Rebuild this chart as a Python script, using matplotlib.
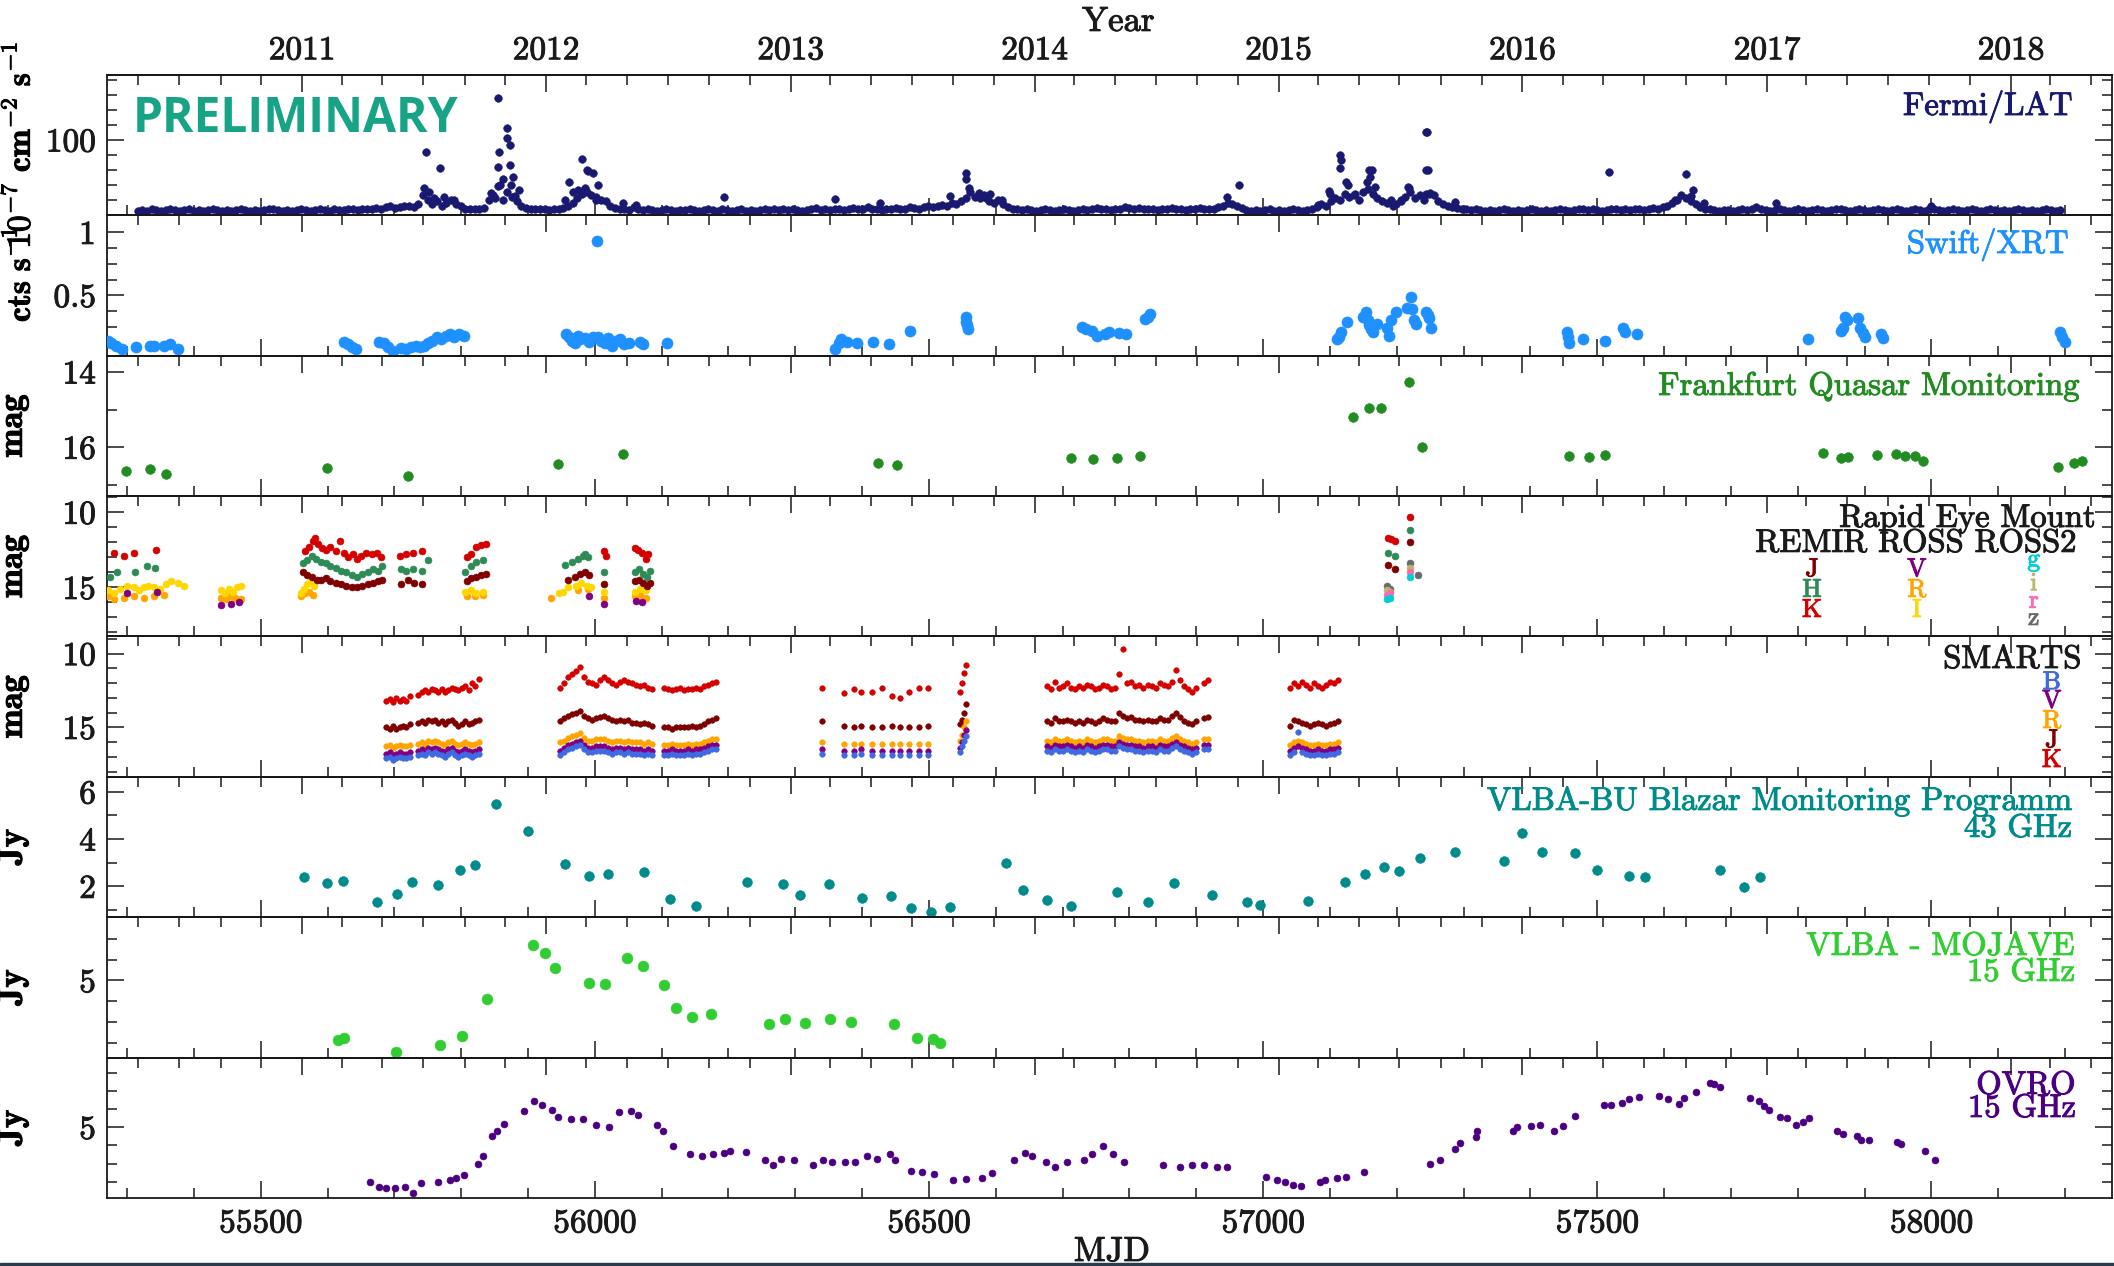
"""Multi-wavelength light curves of the blazar, 2010-2018.

Eight stacked panels sharing the MJD axis: Fermi/LAT gamma rays, Swift/XRT
X-rays, optical/NIR photometry (Frankfurt, REM, SMARTS) and radio
(VLBA-BU 43 GHz, MOJAVE 15 GHz, OVRO 15 GHz). Calendar years are ticked on
the top edge of every panel.
"""

import matplotlib

matplotlib.use("Agg")
import matplotlib.pyplot as plt
import numpy as np
import pandas as pd
from matplotlib import patheffects
from matplotlib.patches import Rectangle
from matplotlib.text import Text
from matplotlib.ticker import FixedLocator, FuncFormatter, MultipleLocator

# ---------------------------------------------------------------- data
# Fermi/LAT weekly flux [1e-7 ph cm^-2 s^-1], first bin at MJD 55316
FERMI_T0 = 55316
FERMI_STEP = 7
fermi_weekly = [
    5, 6, 5, 7, 6, 5, 6, 8, 6, 5, 6, 7, 5, 6, 5, 6, 7, 6, 5, 6,
    5, 6, 7, 6, 5, 6, 5, 6, 7, 8, 6, 5, 6, 5, 6, 7, 6, 5, 6, 7,
    6, 5, 7, 6, 6, 8, 7, 6, 7, 8, 7, 9, 8, 10, 12, 9, 10, 12, 12, 10,
    14, 26, 20, 14, 18, 12, 16, 20, 14, 11, 8, 7, 8, 7, 9, 20, 26, 38, 48, 30,
    24, 18, 12, 9, 8, 7, 8, 7, 6, 8, 7, 9, 12, 16, 22, 28, 30, 26, 24, 20,
    18, 12, 9, 8, 7, 6, 10, 7, 6, 7, 6, 5, 6, 7, 6, 5, 6, 6, 7, 6,
    5, 6, 7, 6, 5, 8, 6, 5, 6, 7, 5, 6, 5, 6, 7, 6, 8, 6, 7, 6,
    7, 6, 5, 6, 7, 9, 6, 7, 6, 8, 7, 6, 7, 9, 8, 7, 10, 8, 7, 6,
    7, 8, 9, 7, 8, 10, 9, 8, 10, 12, 10, 11, 13, 12, 15, 14, 18, 22, 30, 24,
    22, 26, 18, 16, 20, 14, 10, 8, 7, 6, 7, 6, 5, 6, 7, 6, 5, 6, 7, 6,
    5, 6, 8, 6, 7, 9, 7, 8, 6, 7, 8, 10, 9, 8, 9, 7, 8, 7, 6, 8,
    7, 9, 8, 7, 6, 8, 7, 9, 8, 7, 8, 10, 12, 16, 14, 12, 9, 6, 5, 6,
    5, 6, 7, 5, 6, 5, 6, 7, 6, 5, 6, 7, 10, 14, 12, 18, 22, 20, 28, 24,
    26, 20, 30, 34, 28, 22, 18, 16, 20, 14, 18, 24, 30, 22, 26, 20, 28, 26, 18, 14,
    12, 10, 9, 8, 7, 6, 7, 6, 5, 6, 5, 6, 7, 6, 5, 6, 5, 6, 7, 6,
    5, 6, 5, 6, 7, 6, 5, 6, 7, 8, 6, 7, 6, 5, 6, 8, 7, 6, 7, 6,
    7, 8, 6, 7, 9, 8, 10, 12, 16, 20, 26, 22, 18, 14, 10, 8, 7, 6, 5, 6,
    6, 5, 6, 7, 6, 8, 10, 7, 6, 5, 6, 7, 6, 5, 6, 7, 6, 5, 6, 7,
    6, 5, 6, 7, 8, 6, 5, 6, 7, 6, 5, 6, 8, 6, 5, 6, 7, 6, 5, 6,
    7, 6, 5, 8, 7, 6, 5, 6, 7, 6, 5, 6, 7, 6, 5, 6, 7, 6, 5, 6,
    5, 6, 7, 6, 5, 6, 5, 6, 7, 6, 5, 6,
]
# daily points during flares (MJD, flux)
fermi_flares = [
    (55745, 36), (55747, 84), (55752, 30), (55760, 22), (55769, 63), (55775, 24),
    (55790, 20), (55844, 29), (55850, 22), (55855, 156), (55855, 64), (55856, 84),
    (55858, 40), (55862, 20), (55868, 102), (55869, 116), (55873, 93), (55873, 66),
    (55875, 40), (55877, 51), (55880, 25), (55886, 33), (55955, 19), (55961, 44),
    (55968, 30), (55975, 33), (55981, 75), (55985, 36), (55988, 60), (55990, 58),
    (55998, 56), (56002, 19), (56005, 40), (56042, 16), (56061, 13), (56194, 24),
    (56359, 21), (56427, 16), (56531, 25), (56555, 56), (56556, 47), (56560, 36),
    (56575, 29), (56585, 22), (56591, 28), (56609, 20), (56946, 24), (56964, 39),
    (57082, 13), (57099, 31), (57100, 27), (57115, 80), (57116, 73), (57115, 62),
    (57124, 44), (57127, 40), (57138, 27), (57155, 44), (57159, 60), (57160, 51),
    (57163, 60), (57168, 37), (57195, 12), (57207, 20), (57217, 37), (57219, 35),
    (57244, 110), (57245, 111), (57244, 60), (57247, 60), (57250, 29), (57244, 27),
    (57287, 17), (57518, 57), (57617, 20), (57633, 54), (57640, 25), (57643, 33),
    (57659, 16), (57767, 16), (58000, 12),
]

# Swift/XRT count rate [cts/s]
swift = [
    (55272, 0.14), (55276, 0.12), (55283, 0.10), (55293, 0.07), (55313, 0.09),
    (55334, 0.10), (55340, 0.10), (55356, 0.10), (55364, 0.11), (55377, 0.07),
    (55624, 0.13), (55630, 0.11), (55637, 0.09), (55643, 0.07), (55677, 0.13),
    (55684, 0.12), (55690, 0.09), (55698, 0.06), (55710, 0.08), (55717, 0.07),
    (55725, 0.09), (55732, 0.10), (55738, 0.09), (55744, 0.10), (55750, 0.12),
    (55757, 0.14), (55764, 0.17), (55770, 0.15), (55777, 0.18), (55784, 0.19),
    (55790, 0.17), (55797, 0.19), (55804, 0.18), (55957, 0.19), (55961, 0.17),
    (55966, 0.14), (55971, 0.12), (55975, 0.18), (55978, 0.15), (55985, 0.16),
    (55992, 0.13), (55998, 0.17), (56003, 0.93), (56005, 0.17), (56009, 0.14),
    (56015, 0.12), (56020, 0.16), (56025, 0.10), (56031, 0.14), (56038, 0.15),
    (56044, 0.11), (56051, 0.12), (56068, 0.13), (56072, 0.11), (56108, 0.12),
    (56359, 0.07), (56365, 0.12), (56368, 0.15), (56377, 0.13), (56393, 0.12),
    (56416, 0.13), (56440, 0.11), (56471, 0.22), (56555, 0.33), (56556, 0.29),
    (56557, 0.26), (56558, 0.23), (56729, 0.25), (56735, 0.23), (56744, 0.22),
    (56752, 0.18), (56763, 0.19), (56770, 0.21), (56785, 0.20), (56795, 0.19),
    (56823, 0.31), (56827, 0.33), (56830, 0.35), (57111, 0.15), (57113, 0.17),
    (57116, 0.21), (57126, 0.29), (57150, 0.33), (57154, 0.37), (57157, 0.30),
    (57159, 0.26), (57162, 0.23), (57165, 0.21), (57170, 0.27), (57186, 0.24),
    (57188, 0.18), (57192, 0.30), (57199, 0.37), (57215, 0.40), (57221, 0.49),
    (57223, 0.39), (57226, 0.30), (57229, 0.27), (57244, 0.37), (57246, 0.34),
    (57248, 0.32), (57251, 0.24), (57454, 0.21), (57456, 0.17), (57458, 0.12),
    (57479, 0.15), (57512, 0.14), (57539, 0.24), (57542, 0.21), (57560, 0.19),
    (57816, 0.15), (57864, 0.22), (57867, 0.24), (57871, 0.33), (57874, 0.30),
    (57890, 0.32), (57893, 0.24), (57897, 0.20), (57900, 0.17), (57925, 0.19),
    (57928, 0.16), (58193, 0.21), (58196, 0.17), (58200, 0.13),
]

# Frankfurt Quasar Monitoring, R [mag]
frankfurt = [
    (55298, 16.64), (55335, 16.59), (55359, 16.72), (55599, 16.56), (55721, 16.77),
    (55945, 16.45), (56042, 16.19), (56424, 16.43), (56452, 16.47), (56712, 16.29),
    (56745, 16.32), (56781, 16.29), (56816, 16.24), (57135, 15.20), (57159, 14.96),
    (57177, 14.97), (57219, 14.27), (57237, 16.00), (57457, 16.24), (57487, 16.27),
    (57512, 16.22), (57838, 16.16), (57864, 16.30), (57875, 16.25), (57918, 16.21),
    (57947, 16.18), (57961, 16.23), (57975, 16.23), (57988, 16.38), (58189, 16.53),
    (58214, 16.41), (58225, 16.37),
]

# REM: REMIR (J, H, K), ROSS (V, R, I), ROSS2 (g, i, r, z) [mag]
rem_K = [
    (55280, 12.7), (55295, 12.9), (55310, 12.7), (55343, 12.5), (55566, 12.6),
    (55572, 12.3), (55578, 11.9), (55582, 11.7), (55586, 12.1), (55592, 12.4),
    (55598, 12.5), (55604, 12.3), (55612, 12.6), (55619, 11.9), (55625, 12.7),
    (55631, 13.0), (55638, 12.8), (55644, 13.1), (55650, 12.9), (55658, 12.7),
    (55666, 12.8), (55674, 12.7), (55680, 13.0), (55708, 12.9), (55718, 12.8),
    (55728, 12.7), (55742, 12.6), (55808, 13.0), (55815, 12.8), (55822, 12.3),
    (55830, 12.2), (55837, 12.1), (56013, 12.6), (56016, 12.9), (56060, 12.4),
    (56064, 12.5), (56070, 12.7), (56076, 13.1), (56080, 12.8), (57187, 11.7),
    (57192, 11.8), (57197, 11.9), (57220, 10.3),
]
rem_H = [
    (55275, 14.3), (55285, 14.0), (55312, 14.0), (55330, 13.6), (55342, 13.7),
    (55563, 13.4), (55570, 13.2), (55577, 12.9), (55583, 13.1), (55590, 13.3),
    (55597, 13.4), (55604, 13.6), (55612, 13.7), (55620, 13.9), (55628, 14.0),
    (55636, 14.2), (55644, 14.3), (55652, 14.1), (55660, 14.0), (55668, 13.8),
    (55676, 13.9), (55682, 13.6), (55710, 13.8), (55718, 13.9), (55728, 13.8),
    (55742, 13.9), (55750, 13.2), (55806, 14.0), (55814, 13.6), (55822, 13.3),
    (55832, 13.2), (55955, 13.5), (55966, 13.3), (55975, 13.1), (55982, 12.9),
    (55986, 12.8), (55990, 13.0), (56013, 14.0), (56060, 14.0), (56066, 13.8),
    (56072, 14.1), (56078, 14.3), (56082, 13.9), (57187, 12.7), (57197, 12.9),
    (57220, 11.2),
]
rem_J = [
    (55563, 14.0), (55570, 14.2), (55577, 14.3), (55584, 14.5), (55590, 14.5),
    (55597, 14.4), (55604, 14.6), (55612, 14.7), (55620, 14.8), (55628, 14.9),
    (55636, 15.0), (55644, 15.0), (55652, 14.9), (55660, 14.8), (55668, 14.7),
    (55676, 14.6), (55682, 14.5), (55710, 14.8), (55720, 14.5), (55730, 14.7),
    (55742, 14.8), (55808, 14.6), (55815, 14.4), (55822, 14.3), (55830, 14.2),
    (55837, 14.1), (55960, 14.5), (55970, 14.3), (55978, 14.1), (55986, 14.0),
    (55992, 14.2), (56013, 14.8), (56060, 14.6), (56066, 14.5), (56072, 14.7),
    (56078, 14.9), (56082, 14.7), (57187, 13.5), (57197, 13.8), (57220, 12.0),
]
rem_I = [
    (55272, 15.2), (55280, 15.4), (55290, 15.1), (55300, 14.9), (55310, 15.0),
    (55318, 15.2), (55325, 15.0), (55332, 14.9), (55340, 15.0), (55350, 15.1),
    (55358, 14.8), (55366, 14.6), (55376, 14.7), (55385, 14.9), (55440, 15.2),
    (55446, 15.4), (55452, 15.1), (55458, 15.3), (55464, 15.0), (55470, 14.9),
    (55560, 15.4), (55565, 15.1), (55570, 14.8), (55575, 14.6), (55580, 14.9),
    (55806, 15.3), (55814, 15.2), (55822, 15.4), (55832, 15.3), (55946, 15.4),
    (55952, 15.3), (55960, 15.0), (55972, 14.9), (55980, 14.7), (55988, 14.9),
    (55994, 15.0), (56013, 15.3), (56060, 15.3), (56068, 15.1), (56076, 15.2),
]
rem_R = [
    (55272, 15.6), (55280, 15.8), (55295, 15.7), (55310, 15.6), (55325, 15.7),
    (55340, 15.6), (55355, 15.5), (55440, 15.7), (55448, 15.8), (55455, 15.6),
    (55462, 15.7), (55470, 15.8), (55560, 15.6), (55566, 15.4), (55572, 15.3),
    (55578, 15.5), (55808, 15.6), (55820, 15.6), (55832, 15.5), (55934, 15.7),
    (55975, 15.2), (55990, 15.1), (56013, 15.7), (56060, 15.6), (56068, 15.5),
    (56076, 15.7),
]
rem_V = [
    (55300, 15.4), (55345, 15.3), (55440, 16.2), (55455, 16.1), (55468, 16.0),
    (55992, 15.6), (56013, 16.1), (56062, 15.9), (56070, 16.0),
]
ross2_g = [(57186, 15.8), (57190, 15.7), (57220, 14.3)]
ross2_i = [(57186, 15.2), (57190, 15.3), (57220, 13.7)]
ross2_r = [(57186, 15.5), (57190, 15.4), (57220, 14.0)]
ross2_z = [(57186, 14.9), (57190, 15.1), (57220, 13.4), (57232, 14.2)]

# SMARTS, common nights for B, V, R, J, K [mag]
smarts_mjd = [
    55688, 55693, 55698, 55703, 55708, 55713, 55718, 55723,
    55736, 55741, 55746, 55751, 55756, 55761, 55766, 55771, 55776, 55781,
    55786, 55791, 55796, 55801, 55806, 55811, 55816, 55821, 55826,
    55948, 55954, 55960, 55966, 55972, 55978, 55984, 55990, 55996, 56002,
    56008, 56014, 56020, 56026, 56032, 56038, 56044, 56050, 56056, 56062,
    56068, 56074, 56080, 56086,
    56104, 56110, 56116, 56122, 56128, 56134, 56140, 56146, 56152, 56158,
    56164, 56170, 56176, 56182,
    56340, 56373, 56388, 56399, 56414, 56430, 56445, 56457, 56470, 56485, 56499,
    56546, 56550, 56553, 56556,
    56676, 56682, 56688, 56694, 56700, 56706, 56712, 56718, 56724, 56730,
    56736, 56742, 56748, 56754, 56760, 56766, 56772, 56778, 56784, 56790,
    56796, 56802, 56808, 56814, 56820,
    56828, 56834, 56840, 56846, 56852, 56858, 56864, 56870, 56876, 56882,
    56888, 56894, 56900,
    56912, 56918,
    57040, 57046, 57052, 57058, 57064, 57070, 57076, 57082, 57088, 57094,
    57100, 57106, 57112,
]
smarts_K = [
    13.2, 13.1, 13.3, 13.0, 13.2, 13.1, 13.2, 12.9,
    12.8, 12.6, 12.5, 12.6, 12.4, 12.5, 12.6, 12.4, 12.6, 12.5,
    12.3, 12.4, 12.5, 12.3, 12.2, 12.5, 12.0, 12.2, 11.7,
    12.3, 12.0, 11.6, 11.4, 11.2, 10.9, 11.6, 11.9, 12.0, 12.1,
    11.8, 11.6, 11.8, 12.0, 12.1, 11.9, 11.8, 11.9, 12.0, 12.1,
    12.2, 12.1, 12.3, 12.4,
    12.3, 12.4, 12.5, 12.4, 12.3, 12.5, 12.4, 12.4, 12.3, 12.4,
    12.2, 12.1, 12.0, 11.9,
    12.3, 12.7, 12.4, 12.6, 12.6, 12.3, 12.9, 13.0, 12.6, 12.3, 12.3,
    12.6, 12.0, 11.3, 10.8,
    12.2, 12.4, 11.9, 12.3, 12.2, 12.0, 12.3, 12.4, 12.2, 12.3,
    12.1, 12.2, 12.4, 12.3, 12.1, 12.2, 12.4, 12.3, 11.4, 9.7,
    12.0, 11.9, 12.2, 12.1, 12.3,
    12.1, 12.2, 12.3, 12.0, 12.1, 12.2, 11.9, 11.1, 11.8, 12.2,
    12.4, 12.6, 12.3,
    12.0, 11.8,
    12.3, 12.0, 12.2, 11.9, 12.1, 12.3, 12.0, 12.2, 12.3, 12.1,
    11.9, 12.0, 11.8,
]
smarts_J = [
    15.0, 15.1, 14.9, 15.1, 15.0, 14.9, 15.0, 14.8,
    14.7, 14.6, 14.7, 14.5, 14.6, 14.5, 14.7, 14.6, 14.8, 14.6,
    14.5, 14.7, 14.9, 14.8, 14.6, 14.8, 14.7, 14.6, 14.5,
    14.6, 14.4, 14.2, 14.1, 14.0, 13.9, 14.2, 14.4, 14.5, 14.4,
    14.3, 14.2, 14.4, 14.5, 14.6, 14.5, 14.6, 14.5, 14.7, 14.7,
    14.8, 14.7, 14.8, 14.9,
    15.0, 15.0, 15.1, 15.0, 15.0, 15.0, 15.0, 14.9, 15.0, 14.9,
    14.8, 14.6, 14.5, 14.4,
    14.6, 14.9, 15.0, 14.9, 15.0, 15.0, 14.9, 15.0, 15.0, 15.0, 14.9,
    14.8, 14.5, 14.0, 13.4,
    14.6, 14.7, 14.4, 14.6, 14.6, 14.5, 14.6, 14.7, 14.6, 14.7,
    14.5, 14.6, 14.7, 14.6, 14.4, 14.5, 14.6, 14.6, 14.0, 14.2,
    14.4, 14.3, 14.5, 14.5, 14.6,
    14.5, 14.6, 14.6, 14.4, 14.5, 14.5, 14.2, 14.0, 14.3, 14.6,
    14.7, 14.8, 14.6,
    14.4, 14.3,
    14.9, 14.5, 14.6, 14.7, 14.8, 14.9, 14.8, 14.7, 14.8, 14.9,
    14.8, 14.7, 14.6,
]
smarts_R = [
    16.3, 16.2, 16.4, 16.3, 16.2, 16.3, 16.3, 16.2,
    16.1, 16.0, 16.1, 15.9, 16.0, 15.9, 16.0, 16.1, 16.2, 16.0,
    15.9, 16.1, 16.2, 16.1, 16.0, 16.1, 16.2, 16.1, 16.0,
    16.0, 15.9, 15.7, 15.6, 15.5, 15.4, 15.7, 15.9, 15.9, 15.8,
    15.8, 15.8, 15.9, 16.0, 15.9, 15.9, 16.0, 15.9, 16.0, 16.0,
    16.0, 16.1, 16.0, 16.1,
    16.2, 16.2, 16.1, 16.2, 16.2, 16.2, 16.1, 16.2, 16.1, 16.1,
    16.0, 15.9, 15.8, 15.8,
    16.0, 16.1, 16.1, 16.1, 16.1, 16.1, 16.1, 16.1, 16.1, 16.1, 16.1,
    15.9, 15.5, 15.0, 14.6,
    15.9, 16.0, 15.8, 15.9, 15.9, 15.8, 15.9, 16.0, 15.9, 16.0,
    15.8, 15.9, 16.0, 15.9, 15.8, 15.8, 15.9, 15.9, 15.6, 15.7,
    15.8, 15.8, 15.9, 15.9, 16.0,
    15.9, 15.9, 16.0, 15.8, 15.9, 15.9, 15.7, 15.6, 15.8, 15.9,
    16.0, 16.1, 16.0,
    15.8, 15.8,
    16.2, 16.0, 15.9, 16.0, 16.1, 16.2, 16.2, 16.1, 16.2, 16.2,
    16.1, 16.1, 16.0,
]
smarts_V = [
    16.8, 16.7, 16.9, 16.8, 16.7, 16.8, 16.8, 16.7,
    16.6, 16.5, 16.6, 16.4, 16.5, 16.4, 16.5, 16.6, 16.7, 16.5,
    16.4, 16.6, 16.7, 16.6, 16.5, 16.6, 16.7, 16.6, 16.5,
    16.6, 16.4, 16.2, 16.1, 16.0, 15.9, 16.2, 16.4, 16.4, 16.3,
    16.3, 16.3, 16.4, 16.5, 16.4, 16.4, 16.5, 16.4, 16.5, 16.5,
    16.5, 16.6, 16.5, 16.6,
    16.6, 16.6, 16.5, 16.6, 16.6, 16.6, 16.5, 16.6, 16.5, 16.5,
    16.4, 16.3, 16.2, 16.2,
    16.5, 16.6, 16.6, 16.5, 16.6, 16.6, 16.6, 16.6, 16.6, 16.6, 16.6,
    16.4, 16.0, 15.5, 15.2,
    16.3, 16.4, 16.2, 16.3, 16.3, 16.2, 16.3, 16.4, 16.3, 16.4,
    16.2, 16.3, 16.4, 16.3, 16.2, 16.2, 16.3, 16.3, 16.0, 16.1,
    16.2, 16.2, 16.3, 16.3, 16.4,
    16.3, 16.3, 16.4, 16.2, 16.3, 16.3, 16.1, 16.0, 16.2, 16.3,
    16.4, 16.5, 16.4,
    16.2, 16.2,
    16.6, 16.4, 16.3, 16.4, 16.5, 16.6, 16.6, 16.5, 16.6, 16.6,
    16.5, 16.5, 16.4,
]
smarts_B = [
    17.1, 17.0, 17.2, 17.1, 17.0, 17.1, 17.1, 17.0,
    16.9, 16.8, 16.9, 16.7, 16.8, 16.7, 16.8, 16.9, 17.0, 16.8,
    16.7, 16.9, 17.0, 16.9, 16.8, 16.9, 17.0, 16.9, 16.8,
    16.9, 16.7, 16.5, 16.4, 16.3, 16.2, 16.5, 16.7, 16.7, 16.6,
    16.6, 16.6, 16.7, 16.8, 16.7, 16.7, 16.8, 16.7, 16.8, 16.8,
    16.8, 16.9, 16.8, 16.9,
    16.9, 16.9, 16.8, 16.9, 16.9, 16.9, 16.8, 16.9, 16.8, 16.8,
    16.7, 16.6, 16.5, 16.5,
    16.8, 16.9, 16.9, 16.8, 16.9, 16.9, 16.9, 16.9, 16.9, 16.9, 16.9,
    16.7, 16.3, 15.9, 15.6,
    16.6, 16.7, 16.5, 16.6, 16.6, 16.5, 16.6, 16.7, 16.6, 16.7,
    16.5, 16.6, 16.7, 16.6, 16.5, 16.5, 16.6, 16.6, 16.3, 16.4,
    16.5, 16.5, 16.6, 16.6, 16.7,
    16.6, 16.6, 16.7, 16.5, 16.6, 16.6, 16.4, 16.3, 16.5, 16.6,
    16.7, 16.8, 16.7,
    16.5, 16.5,
    16.9, 16.7, 15.3, 16.7, 16.8, 16.9, 16.9, 16.8, 16.9, 16.9,
    16.8, 16.8, 16.7,
]

# VLBA-BU 43 GHz total flux [Jy]
vlba = [
    (55565, 2.38), (55599, 2.13), (55623, 2.21), (55674, 1.33), (55704, 1.66),
    (55726, 2.20), (55765, 2.04), (55798, 2.67), (55820, 2.88), (55852, 5.49),
    (55900, 4.36), (55955, 2.93), (55992, 2.42), (56019, 2.50), (56073, 2.59),
    (56112, 1.48), (56152, 1.18), (56228, 2.17), (56282, 2.08), (56307, 1.62),
    (56350, 2.08), (56400, 1.50), (56443, 1.58), (56473, 1.07), (56503, 0.90),
    (56531, 1.12), (56615, 2.97), (56641, 1.83), (56677, 1.41), (56713, 1.16),
    (56781, 1.75), (56828, 1.32), (56867, 2.13), (56924, 1.62), (56976, 1.33),
    (56996, 1.20), (57067, 1.37), (57123, 2.17), (57153, 2.50), (57181, 2.80),
    (57204, 2.63), (57235, 3.18), (57287, 3.47), (57361, 3.09), (57388, 4.27),
    (57418, 3.43), (57466, 3.39), (57499, 2.71), (57548, 2.42), (57572, 2.38),
    (57683, 2.67), (57719, 1.96), (57744, 2.38),
]

# VLBA MOJAVE 15 GHz [Jy]
mojave = [
    (55615, 2.16), (55624, 2.26), (55702, 1.59), (55768, 1.92), (55801, 2.36),
    (55839, 4.13), (55908, 6.68), (55925, 6.33), (55941, 5.58), (55991, 4.90),
    (56015, 4.84), (56048, 6.10), (56072, 5.67), (56103, 4.80), (56122, 3.70),
    (56145, 3.27), (56174, 3.37), (56260, 2.93), (56284, 3.13), (56314, 2.98),
    (56352, 3.17), (56383, 3.03), (56447, 2.93), (56482, 2.26), (56506, 2.20),
    (56516, 2.02),
]

# OVRO 40 m, 15 GHz [Jy]
ovro = [
    (55663, 2.00), (55677, 1.72), (55687, 1.67), (55701, 1.67), (55716, 1.72),
    (55728, 1.39), (55740, 1.94), (55765, 1.97), (55783, 2.11), (55792, 2.20),
    (55804, 2.39), (55825, 3.00), (55832, 3.39), (55846, 4.50), (55854, 4.78),
    (55864, 5.17), (55894, 5.89), (55909, 6.44), (55921, 6.22), (55936, 5.94),
    (55945, 5.56), (55964, 5.44), (55983, 5.44), (56002, 5.10), (56021, 5.00),
    (56036, 5.83), (56054, 5.90), (56064, 5.67), (56093, 5.10), (56102, 4.80),
    (56117, 3.97), (56142, 3.50), (56160, 3.40), (56177, 3.50), (56193, 3.60),
    (56202, 3.70), (56226, 3.65), (56255, 3.17), (56267, 2.94), (56279, 3.25),
    (56298, 3.17), (56326, 2.94), (56341, 3.17), (56355, 3.10), (56374, 3.06),
    (56389, 3.06), (56407, 3.39), (56422, 3.25), (56441, 3.50), (56449, 3.20),
    (56473, 2.61), (56489, 2.56), (56508, 2.44), (56536, 2.11), (56555, 2.14),
    (56579, 2.20), (56594, 2.50), (56627, 3.22), (56643, 3.56), (56654, 3.40),
    (56675, 3.06), (56689, 2.83), (56707, 3.06), (56732, 3.22), (56744, 3.50),
    (56760, 3.94), (56776, 3.50), (56792, 3.11), (56850, 2.94), (56875, 2.83),
    (56894, 2.94), (56912, 2.90), (56931, 2.80), (56946, 2.80), (57005, 2.28),
    (57020, 2.11), (57032, 2.00), (57045, 1.83), (57057, 1.78), (57085, 2.00),
    (57093, 2.11), (57111, 2.20), (57124, 2.28), (57151, 2.56), (57250, 3.00),
    (57265, 3.17), (57287, 3.78), (57295, 4.11), (57318, 4.44), (57320, 4.78),
    (57374, 4.78), (57380, 5.00), (57401, 5.06), (57414, 5.10), (57435, 4.78),
    (57449, 5.06), (57466, 5.61), (57510, 6.22), (57521, 6.22), (57537, 6.33),
    (57548, 6.56), (57563, 6.67), (57593, 6.72), (57606, 6.56), (57622, 6.28),
    (57629, 6.60), (57647, 6.94), (57668, 7.44), (57675, 7.40), (57683, 7.20),
    (57729, 6.61), (57742, 6.44), (57750, 6.17), (57757, 5.95), (57773, 5.56),
    (57784, 5.50), (57798, 5.10), (57808, 5.28), (57817, 5.50), (57859, 4.78),
    (57867, 4.61), (57888, 4.50), (57894, 4.30), (57906, 4.30), (57949, 4.17),
    (57955, 4.10), (57990, 3.70), (58005, 3.17),
]

years = list(range(2011, 2019))

# ---------------------------------------------------------------- style
C_FERMI = "#191970"
C_SWIFT = "#1e90ff"
C_FRANK = "#228b22"
C_K, C_J, C_H = "#d40000", "#7f0000", "#2e8b57"
C_V, C_R, C_I = "#800080", "#ffa500", "#ffd700"
C_g, C_i, C_r, C_z = "#00ced1", "#bdb76b", "#ff69b4", "#696969"
C_B = "#4169e1"
C_VLBA = "#008b8b"
C_MOJAVE = "#32cd32"
C_OVRO = "#4b0082"
INK = "#1a1a1a"

LABEL_SIZE = 23.5   # instrument names
BAND_SIZE = 18.5    # filter letters
TICK_SIZE = 24
AXIS_SIZE = 25

plt.rcParams.update({
    "font.family": "cmr10",
    "mathtext.fontset": "cm",
    "axes.unicode_minus": False,
    "axes.formatter.use_mathtext": True,
})

XMIN, XMAX = 55270, 58270
EPOCH = pd.Timestamp("1858-11-17")


def mjd_of(y, m=1):
    return (pd.Timestamp(year=y, month=m, day=1) - EPOCH).days


def pairs(p):
    a = np.asarray(p, dtype=float)
    return a[:, 0], a[:, 1]


def dots(ax, x, y, color, ms):
    ax.plot(x, y, ls="none", marker="o", ms=ms, color=color, mec=color,
            mew=0.4, zorder=3)


def tag(ax, x, y, s, color, size=LABEL_SIZE, ha="right"):
    ax.text(x, y, s, transform=ax.transAxes, ha=ha, va="baseline",
            color=color, fontsize=size, zorder=5)


year_mjd = [mjd_of(y) for y in years]
bimonth_mjd = [mjd_of(y, m) for y in range(2010, 2019) for m in (3, 5, 7, 9, 11)]
bimonth_mjd = [t for t in bimonth_mjd if XMIN < t < XMAX]

fig, axes = plt.subplots(8, 1, sharex=True, figsize=(21.14, 12.66), dpi=100)
fig.subplots_adjust(left=0.0506, right=0.999, top=0.9408, bottom=0.0537, hspace=0)
ax_fermi, ax_swift, ax_frank, ax_rem, ax_smarts, ax_vlba, ax_moj, ax_ovro = axes

# Fermi/LAT
fermi_t = FERMI_T0 + FERMI_STEP * np.arange(len(fermi_weekly))
dots(ax_fermi, fermi_t, fermi_weekly, C_FERMI, 5.5)
dots(ax_fermi, *pairs(fermi_flares), C_FERMI, 5.5)
ax_fermi.set_ylim(-1, 187)
ax_fermi.yaxis.set_major_locator(FixedLocator([100]))
ax_fermi.yaxis.set_minor_locator(FixedLocator([20, 40, 60, 80, 120, 140, 160, 180]))
ax_fermi.set_ylabel(r"$\mathbf{10^{-7}\ cm^{-2}\ s^{-1}}$", fontsize=24)
tag(ax_fermi, 0.9805, 0.715, "Fermi/LAT", C_FERMI)
ax_fermi.text(0.013, 0.594, "PRELIMINARY", transform=ax_fermi.transAxes,
              family="Open Sans", weight="bold", fontsize=34.5, color="#16a386",
              va="baseline", zorder=6)

# Swift/XRT
dots(ax_swift, *pairs(swift), C_SWIFT, 8)
ax_swift.set_ylim(0.02, 1.135)
ax_swift.yaxis.set_major_locator(FixedLocator([0.5, 1.0]))
ax_swift.yaxis.set_minor_locator(FixedLocator([0.125, 0.25, 0.375, 0.625, 0.75, 0.875]))
ax_swift.set_ylabel(r"$\mathbf{cts\ s^{-1}}$", fontsize=24)
tag(ax_swift, 0.9786, 0.732, "Swift/XRT", C_SWIFT)

# Frankfurt
dots(ax_frank, *pairs(frankfurt), C_FRANK, 7)
ax_frank.set_ylim(17.3, 13.57)
ax_frank.yaxis.set_major_locator(FixedLocator([14, 16]))
ax_frank.yaxis.set_minor_locator(FixedLocator([15, 17]))
ax_frank.set_ylabel("mag", family="cmb10", fontsize=AXIS_SIZE)
tag(ax_frank, 0.984, 0.721, "Frankfurt Quasar Monitoring", C_FRANK)

# REM
for band, col in ((rem_R, C_R), (rem_I, C_I), (rem_V, C_V), (rem_J, C_J),
                  (rem_H, C_H), (rem_K, C_K), (ross2_z, C_z), (ross2_i, C_i),
                  (ross2_r, C_r), (ross2_g, C_g)):
    dots(ax_rem, *pairs(band), col, 5)
ax_rem.set_ylim(18.27, 8.93)
ax_rem.yaxis.set_major_locator(FixedLocator([10, 15]))
ax_rem.yaxis.set_minor_locator(FixedLocator([9, 11, 12, 13, 14, 16, 17, 18]))
ax_rem.set_ylabel("mag", family="cmb10", fontsize=AXIS_SIZE)
tag(ax_rem, 0.992, 0.781, "Rapid Eye Mount", INK)
tag(ax_rem, 0.983, 0.603, "REMIR ROSS ROSS2", INK)
for col_x, letters in (
    (0.8504, (("J", C_J, 0.430), ("H", C_H, 0.283), ("K", C_K, 0.140))),
    (0.9027, (("V", C_V, 0.430), ("R", C_R, 0.283), ("I", C_I, 0.140))),
    (0.9610, (("g", C_g, 0.500), ("i", C_i, 0.330), ("r", C_r, 0.205), ("z", C_z, 0.083))),
):
    for s, col, yy in letters:
        tag(ax_rem, col_x, yy, s, col, size=BAND_SIZE, ha="center")

# SMARTS
for band, col in ((smarts_K, C_K), (smarts_J, C_J), (smarts_R, C_R),
                  (smarts_V, C_V), (smarts_B, C_B)):
    dots(ax_smarts, smarts_mjd, band, col, 4)
ax_smarts.set_ylim(18.36, 8.84)
ax_smarts.yaxis.set_major_locator(FixedLocator([10, 15]))
ax_smarts.yaxis.set_minor_locator(FixedLocator([9, 11, 12, 13, 14, 16, 17, 18]))
ax_smarts.set_ylabel("mag", family="cmb10", fontsize=AXIS_SIZE)
tag(ax_smarts, 0.985, 0.776, "SMARTS", INK)
for s, col, yy in (("B", C_B, 0.625), ("V", C_V, 0.493), ("R", C_R, 0.349),
                   ("J", C_J, 0.212), ("K", C_K, 0.071)):
    tag(ax_smarts, 0.970, yy, s, col, size=BAND_SIZE, ha="center")

# VLBA-BU 43 GHz
dots(ax_vlba, *pairs(vlba), C_VLBA, 7)
ax_vlba.set_ylim(0.69, 6.63)
ax_vlba.yaxis.set_major_locator(FixedLocator([2, 4, 6]))
ax_vlba.yaxis.set_minor_locator(FixedLocator([1, 3, 5]))
ax_vlba.set_ylabel("Jy", family="cmb10", fontsize=AXIS_SIZE)
tag(ax_vlba, 0.980, 0.765, "VLBA-BU Blazar Monitoring Programm", C_VLBA)
tag(ax_vlba, 0.980, 0.573, "43 GHz", C_VLBA)

# MOJAVE 15 GHz
dots(ax_moj, *pairs(mojave), C_MOJAVE, 7.8)
ax_moj.set_ylim(1.3, 8.03)
ax_moj.yaxis.set_major_locator(FixedLocator([5]))
ax_moj.yaxis.set_minor_locator(FixedLocator([2, 3, 4, 6, 7]))
ax_moj.set_ylabel("Jy", family="cmb10", fontsize=AXIS_SIZE)
tag(ax_moj, 0.9815, 0.732, "VLBA - MOJAVE", C_MOJAVE)
tag(ax_moj, 0.9815, 0.547, "15 GHz", C_MOJAVE)

# OVRO 15 GHz
dots(ax_ovro, *pairs(ovro), C_OVRO, 5)
ax_ovro.set_ylim(1.1, 8.83)
ax_ovro.yaxis.set_major_locator(FixedLocator([5]))
ax_ovro.yaxis.set_minor_locator(FixedLocator([2, 3, 4, 6, 7, 8]))
ax_ovro.set_ylabel("Jy", family="cmb10", fontsize=AXIS_SIZE)
tag(ax_ovro, 0.982, 0.742, "OVRO", C_OVRO)
tag(ax_ovro, 0.982, 0.578, "15 GHz", C_OVRO)

# shared axis furniture: MJD below, calendar years on top of each panel
num = FuncFormatter(lambda v, _: f"{v:g}")
for i, ax in enumerate(axes):
    ax.set_xlim(XMIN, XMAX)
    ax.xaxis.set_major_locator(MultipleLocator(500))
    ax.xaxis.set_minor_locator(MultipleLocator(100))
    ax.xaxis.set_major_formatter(FuncFormatter(lambda v, _: f"{v:.0f}"))
    ax.yaxis.set_major_formatter(num)
    ax.tick_params(which="both", direction="in", top=False, right=True,
                   width=1.1, color=INK, labelcolor=INK, labelsize=TICK_SIZE, pad=8)
    ax.tick_params(which="major", length=12)
    ax.tick_params(which="minor", length=7.5)
    for sp in ax.spines.values():
        sp.set_linewidth(1.3)
        sp.set_color(INK)
    ax.yaxis.set_label_coords(-0.039, 0.5)

    top = ax.secondary_xaxis("top")
    top.set_xticks(year_mjd, labels=[str(y) for y in years])
    top.xaxis.set_minor_locator(FixedLocator(bimonth_mjd))
    top.tick_params(which="both", direction="in", width=1.1, color=INK,
                    labelcolor=INK, labelsize=TICK_SIZE, pad=7)
    top.tick_params(which="major", length=12)
    top.tick_params(which="minor", length=7.5)
    top.spines["top"].set_linewidth(1.3)
    if i > 0:
        top.tick_params(labeltop=False)

# the two count-rate labels carry superscripts and sit a touch further in
ax_fermi.yaxis.set_label_coords(-0.0355, 0.5)
ax_swift.yaxis.set_label_coords(-0.0355, 0.58)

fig.text(0.529, 0.9826, "Year", ha="center", va="center", fontsize=AXIS_SIZE, color=INK)
fig.text(0.526, 0.011, "MJD", ha="center", va="center", fontsize=AXIS_SIZE, color=INK)
fig.add_artist(Rectangle((0, 0), 1, 3 / 1266, transform=fig.transFigure,
                         color="#2c3b4b", zorder=10))

# the serif glyphs are drawn a little heavier, as in the printed version
fig.canvas.draw()
heavy = [patheffects.Stroke(linewidth=0.7), patheffects.Normal()]
for t in fig.findobj(Text):
    if t.get_text() and t.get_text() != "PRELIMINARY":
        t.set_path_effects(heavy)

fig.savefig("out.png", dpi=100)
